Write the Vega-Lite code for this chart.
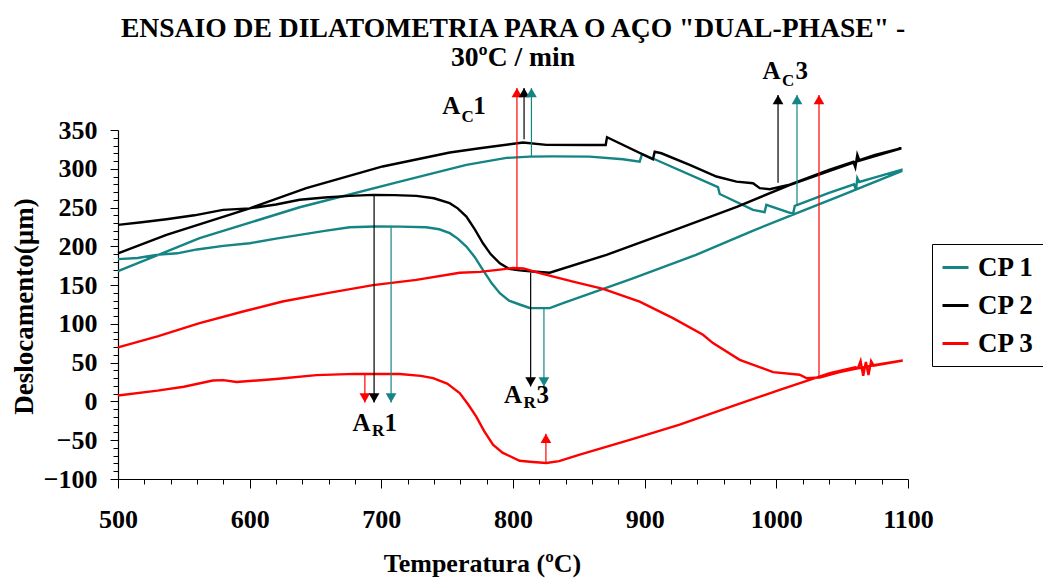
{
  "$schema": "https://vega.github.io/schema/vega-lite/v6.json",
  "width": 790,
  "height": 349,
  "autosize": {"type": "none"},
  "padding": {"left": 118, "top": 130, "right": 135, "bottom": 101},
  "background": "white",
  "title": {
    "text": ["ENSAIO DE DILATOMETRIA PARA O AÇO \"DUAL-PHASE\" -", "30ºC / min"],
    "font": "Liberation Serif",
    "fontSize": 27.6,
    "fontWeight": "bold",
    "color": "#000000",
    "anchor": "middle",
    "frame": "group",
    "lineHeight": 29,
    "offset": -12
  },
  "config": {
    "view": {"stroke": null},
    "axis": {
      "grid": false,
      "domainColor": "#000000",
      "domainWidth": 1.2,
      "tickColor": "#000000",
      "labelFont": "Liberation Serif",
      "labelFontWeight": "bold",
      "labelFontSize": 26,
      "labelColor": "#000000",
      "labelFlush": false,
      "titleFont": "Liberation Serif",
      "titleFontWeight": "bold",
      "titleColor": "#000000",
      "labelOverlap": false
    },
    "legend": {
      "labelFont": "Liberation Serif",
      "labelFontWeight": "bold",
      "labelFontSize": 27,
      "labelColor": "#000000"
    }
  },
  "datasets": {
    "curves": [
      {"s":"CP 1","t":500,"d":183.5},{"s":"CP 1","t":515,"d":185},{"s":"CP 1","t":529,"d":189},{"s":"CP 1","t":545,"d":191},{"s":"CP 1","t":560,"d":196},{"s":"CP 1","t":580,"d":200.6},{"s":"CP 1","t":600,"d":204},{"s":"CP 1","t":620,"d":210},{"s":"CP 1","t":638,"d":214.8},{"s":"CP 1","t":657,"d":220},{"s":"CP 1","t":676,"d":224.6},{"s":"CP 1","t":695,"d":225.5},{"s":"CP 1","t":714,"d":225.4},{"s":"CP 1","t":734,"d":224.6},{"s":"CP 1","t":744,"d":222},{"s":"CP 1","t":752,"d":217},{"s":"CP 1","t":758,"d":210},{"s":"CP 1","t":764.6,"d":199.7},{"s":"CP 1","t":771,"d":186},{"s":"CP 1","t":777,"d":170},{"s":"CP 1","t":784,"d":152},{"s":"CP 1","t":790,"d":139.6},{"s":"CP 1","t":797,"d":130},{"s":"CP 1","t":805,"d":125},{"s":"CP 1","t":812.7,"d":120.5},{"s":"CP 1","t":827.9,"d":120.3},{"s":"CP 1","t":838,"d":126.7},{"s":"CP 1","t":890,"d":158},{"s":"CP 1","t":939,"d":189},{"s":"CP 1","t":982,"d":220},{"s":"CP 1","t":1012.7,"d":241},{"s":"CP 1","t":1050,"d":266},{"s":"CP 1","t":1095,"d":297},
      {"s":"CP 1","t":1095,"d":298.5},{"s":"CP 1","t":1075,"d":289},{"s":"CP 1","t":1063,"d":283},{"s":"CP 1","t":1061.5,"d":288},{"s":"CP 1","t":1060.5,"d":273},{"s":"CP 1","t":1059,"d":280},{"s":"CP 1","t":1040,"d":269},{"s":"CP 1","t":1014,"d":252},{"s":"CP 1","t":1012.7,"d":241.8},{"s":"CP 1","t":992.4,"d":253.4},{"s":"CP 1","t":991.1,"d":244},{"s":"CP 1","t":982.3,"d":247},{"s":"CP 1","t":957,"d":267.5},{"s":"CP 1","t":955.7,"d":276.2},{"s":"CP 1","t":907.6,"d":312.3},{"s":"CP 1","t":898,"d":319},{"s":"CP 1","t":896.2,"d":309.2},{"s":"CP 1","t":883.5,"d":312.3},{"s":"CP 1","t":858.2,"d":315.7},{"s":"CP 1","t":830,"d":316},{"s":"CP 1","t":812.6,"d":315.7},{"s":"CP 1","t":795,"d":314},{"s":"CP 1","t":764.6,"d":305},{"s":"CP 1","t":714,"d":283.4},{"s":"CP 1","t":638,"d":250.4},{"s":"CP 1","t":562,"d":210.5},{"s":"CP 1","t":500,"d":168},
      {"s":"CP 2","t":500,"d":227.7},{"s":"CP 2","t":518,"d":231},{"s":"CP 2","t":536.8,"d":235},{"s":"CP 2","t":558,"d":240},{"s":"CP 2","t":579.7,"d":247},{"s":"CP 2","t":600,"d":249},{"s":"CP 2","t":620,"d":254},{"s":"CP 2","t":638,"d":260},{"s":"CP 2","t":657,"d":263},{"s":"CP 2","t":676,"d":265},{"s":"CP 2","t":693.7,"d":266.3},{"s":"CP 2","t":710,"d":266},{"s":"CP 2","t":726.6,"d":265},{"s":"CP 2","t":740,"d":262},{"s":"CP 2","t":751.9,"d":255.7},{"s":"CP 2","t":758,"d":249},{"s":"CP 2","t":764.6,"d":238.4},{"s":"CP 2","t":771,"d":222},{"s":"CP 2","t":777.2,"d":204},{"s":"CP 2","t":783,"d":190},{"s":"CP 2","t":790,"d":178},{"s":"CP 2","t":797,"d":171},{"s":"CP 2","t":805,"d":169},{"s":"CP 2","t":815,"d":167.5},{"s":"CP 2","t":827.9,"d":166},{"s":"CP 2","t":871,"d":189},{"s":"CP 2","t":924,"d":222},{"s":"CP 2","t":970,"d":251},{"s":"CP 2","t":1010,"d":279},{"s":"CP 2","t":1040,"d":297},{"s":"CP 2","t":1060.8,"d":309.2},{"s":"CP 2","t":1095,"d":326.5},
      {"s":"CP 2","t":1095,"d":326.5},{"s":"CP 2","t":1075,"d":318},{"s":"CP 2","t":1063,"d":311},{"s":"CP 2","t":1061.5,"d":318},{"s":"CP 2","t":1060,"d":302},{"s":"CP 2","t":1058.5,"d":309},{"s":"CP 2","t":1040,"d":298.5},{"s":"CP 2","t":1010.1,"d":279.5},{"s":"CP 2","t":995,"d":273.6},{"s":"CP 2","t":987.4,"d":275},{"s":"CP 2","t":982.3,"d":281.3},{"s":"CP 2","t":969.7,"d":283.4},{"s":"CP 2","t":954.5,"d":290},{"s":"CP 2","t":934.2,"d":305},{"s":"CP 2","t":912.7,"d":320},{"s":"CP 2","t":907.6,"d":322},{"s":"CP 2","t":906.3,"d":312.3},{"s":"CP 2","t":871.4,"d":340.6},{"s":"CP 2","t":870.4,"d":330.7},{"s":"CP 2","t":858.2,"d":330.7},{"s":"CP 2","t":825.4,"d":330.8},{"s":"CP 2","t":807.6,"d":333.8},{"s":"CP 2","t":774.7,"d":326.5},{"s":"CP 2","t":752,"d":321},{"s":"CP 2","t":701,"d":303},{"s":"CP 2","t":643,"d":275},{"s":"CP 2","t":600,"d":249},{"s":"CP 2","t":536.8,"d":214.8},{"s":"CP 2","t":500,"d":191},
      {"s":"CP 3","t":500,"d":7.7},{"s":"CP 3","t":530,"d":14},{"s":"CP 3","t":550,"d":19},{"s":"CP 3","t":572,"d":27},{"s":"CP 3","t":580,"d":27.5},{"s":"CP 3","t":590,"d":25},{"s":"CP 3","t":620,"d":29},{"s":"CP 3","t":650.6,"d":34},{"s":"CP 3","t":680,"d":35.5},{"s":"CP 3","t":714,"d":35.3},{"s":"CP 3","t":730,"d":33},{"s":"CP 3","t":739.3,"d":30},{"s":"CP 3","t":750,"d":23},{"s":"CP 3","t":759.5,"d":10.8},{"s":"CP 3","t":766,"d":-4},{"s":"CP 3","t":772,"d":-19.3},{"s":"CP 3","t":778,"d":-38},{"s":"CP 3","t":784.8,"d":-55.8},{"s":"CP 3","t":792,"d":-66},{"s":"CP 3","t":805,"d":-76.5},{"s":"CP 3","t":815,"d":-78},{"s":"CP 3","t":825.4,"d":-79.4},{"s":"CP 3","t":835,"d":-77},{"s":"CP 3","t":850.7,"d":-68.7},{"s":"CP 3","t":890,"d":-49},{"s":"CP 3","t":926.6,"d":-30},{"s":"CP 3","t":965,"d":-7},{"s":"CP 3","t":1002.6,"d":15},{"s":"CP 3","t":1040.6,"d":36.6},{"s":"CP 3","t":1060,"d":44},{"s":"CP 3","t":1062,"d":43},{"s":"CP 3","t":1064,"d":52},{"s":"CP 3","t":1066,"d":33},{"s":"CP 3","t":1068,"d":51},{"s":"CP 3","t":1070,"d":34},{"s":"CP 3","t":1072,"d":52},{"s":"CP 3","t":1074,"d":46},{"s":"CP 3","t":1096,"d":52.8},
      {"s":"CP 3","t":1096,"d":52.8},{"s":"CP 3","t":1075,"d":47},{"s":"CP 3","t":1060,"d":42},{"s":"CP 3","t":1048.1,"d":37.8},{"s":"CP 3","t":1032.9,"d":30.9},{"s":"CP 3","t":1022.8,"d":30.1},{"s":"CP 3","t":1017.7,"d":34.4},{"s":"CP 3","t":997.5,"d":37.8},{"s":"CP 3","t":972.2,"d":53.7},{"s":"CP 3","t":951.9,"d":75.2},{"s":"CP 3","t":944.3,"d":85.9},{"s":"CP 3","t":921.5,"d":107.4},{"s":"CP 3","t":896.2,"d":128.8},{"s":"CP 3","t":868.4,"d":145.2},{"s":"CP 3","t":845.6,"d":154.6},{"s":"CP 3","t":820.3,"d":165.4},{"s":"CP 3","t":808,"d":171.5},{"s":"CP 3","t":800,"d":172},{"s":"CP 3","t":790,"d":170},{"s":"CP 3","t":775,"d":167},{"s":"CP 3","t":759.5,"d":166},{"s":"CP 3","t":726.6,"d":156.8},{"s":"CP 3","t":693.7,"d":150},{"s":"CP 3","t":660,"d":140},{"s":"CP 3","t":625,"d":128.9},{"s":"CP 3","t":595,"d":116},{"s":"CP 3","t":562,"d":101},{"s":"CP 3","t":530,"d":84},{"s":"CP 3","t":500,"d":69.6}
    ],
    "arrows": [
      {"s":"CP 3","t":803,"from":170,"tip":404,"dir":"up"},
      {"s":"CP 2","t":808.4,"from":338,"tip":404,"dir":"up"},
      {"s":"CP 1","t":814,"from":316,"tip":404,"dir":"up"},
      {"s":"CP 2","t":1001.3,"from":282,"tip":395,"dir":"up"},
      {"s":"CP 1","t":1015.7,"from":253.5,"tip":395,"dir":"up"},
      {"s":"CP 3","t":1032.4,"from":31,"tip":395,"dir":"up"},
      {"s":"CP 3","t":825,"from":-79,"tip":-41.6,"dir":"up"},
      {"s":"CP 3","t":687.5,"from":35.3,"tip":-1.3,"dir":"down"},
      {"s":"CP 2","t":694.5,"from":266,"tip":-1.3,"dir":"down"},
      {"s":"CP 1","t":707.4,"from":225,"tip":-1.3,"dir":"down"},
      {"s":"CP 2","t":813.4,"from":166,"tip":19.3,"dir":"down"},
      {"s":"CP 1","t":823.5,"from":120.3,"tip":19.3,"dir":"down"}
    ],
    "labels": [
      {"txt":"A","t":753.2,"d":370.2,"k":"big"},{"txt":"C","t":765.6,"d":360.7,"k":"sub"},{"txt":"1","t":774.5,"d":370.2,"k":"big"},
      {"txt":"A","t":996.3,"d":415.3,"k":"big"},{"txt":"C","t":1009.0,"d":406.5,"k":"sub"},{"txt":"3","t":1019.3,"d":415.3,"k":"big"},
      {"txt":"A","t":684.9,"d":-38.7,"k":"big"},{"txt":"R","t":697.5,"d":-44.2,"k":"sub"},{"txt":"1","t":707.2,"d":-38.7,"k":"big"},
      {"txt":"A","t":800,"d":-2.1,"k":"big"},{"txt":"R","t":812.7,"d":-8.5,"k":"sub"},{"txt":"3","t":822.6,"d":-2.1,"k":"big"}
    ]
  },
  "encoding": {
    "x": {
      "field": "t", "type": "quantitative",
      "scale": {"domain": [500, 1100], "nice": false, "zero": false},
      "axis": {
        "title": "Temperatura (ºC)",
        "titleFontSize": 26,
        "titleBaseline": "alphabetic",
        "titleX": 364,
        "titleY": 92,
        "values": [500,520,540,560,580,600,620,640,660,680,700,720,740,760,780,800,820,840,860,880,900,920,940,960,980,1000,1020,1040,1060,1080,1100],
        "labelExpr": "datum.value % 100 === 0 ? datum.label : ''",
        "tickSize": {"condition": {"test": "datum.value % 100 === 0", "value": 9}, "value": 5},
        "labelPadding": 18,
        "format": "d"
      }
    },
    "y": {
      "field": "d", "type": "quantitative",
      "scale": {"domain": [-100, 350], "nice": false, "zero": false},
      "axis": {
        "title": "Deslocamento(µm)",
        "titleFontSize": 27,
        "titleX": -94,
        "titleY": 176,
        "titleBaseline": "middle",
        "titleAngle": -90,
        "values": [-100,-90,-80,-70,-60,-50,-40,-30,-20,-10,0,10,20,30,40,50,60,70,80,90,100,110,120,130,140,150,160,170,180,190,200,210,220,230,240,250,260,270,280,290,300,310,320,330,340,350],
        "labelExpr": "datum.value % 50 === 0 ? datum.label : ''",
        "tickSize": {"condition": {"test": "datum.value % 50 === 0", "value": 8}, "value": 5},
        "labelPadding": 13,
        "format": "d"
      }
    }
  },
  "layer": [
    {
      "data": {"name": "curves"},
      "mark": {"type": "line", "strokeWidth": 2.4, "clip": false},
      "encoding": {
        "color": {
          "field": "s", "type": "nominal",
          "scale": {"domain": ["CP 1", "CP 2", "CP 3"], "range": ["#148484", "#000000", "#ff0000"]},
          "legend": {
            "title": null,
            "orient": "none",
            "legendX": 814,
            "legendY": 114,
            "strokeColor": "#000000",
            "padding": 9,
            "symbolType": "stroke",
            "symbolSize": 676,
            "symbolStrokeWidth": 3,
            "labelOffset": 8,
            "rowPadding": 10
          }
        },
        "order": {"value": null}
      }
    },
    {
      "data": {"name": "arrows"},
      "mark": {"type": "rule", "strokeWidth": 1.2},
      "encoding": {
        "y": {"field": "from", "type": "quantitative"},
        "y2": {"field": "tip"},
        "color": {"field": "s", "type": "nominal", "legend": null}
      }
    },
    {
      "data": {"name": "arrows"},
      "transform": [{"filter": "datum.dir === 'up'"}],
      "mark": {"type": "point", "shape": "triangle-up", "filled": true, "size": 115, "opacity": 1, "yOffset": 4.6},
      "encoding": {
        "y": {"field": "tip", "type": "quantitative"},
        "color": {"field": "s", "type": "nominal", "legend": null}
      }
    },
    {
      "data": {"name": "arrows"},
      "transform": [{"filter": "datum.dir === 'down'"}],
      "mark": {"type": "point", "shape": "triangle-down", "filled": true, "size": 115, "opacity": 1, "yOffset": -4.6},
      "encoding": {
        "y": {"field": "tip", "type": "quantitative"},
        "color": {"field": "s", "type": "nominal", "legend": null}
      }
    },
    {
      "data": {"name": "labels"},
      "transform": [{"filter": "datum.k === 'big'"}],
      "mark": {"type": "text", "font": "Liberation Serif", "fontWeight": "bold", "fontSize": 25, "baseline": "alphabetic", "align": "center", "color": "#000000"},
      "encoding": {"text": {"field": "txt"}}
    },
    {
      "data": {"name": "labels"},
      "transform": [{"filter": "datum.k === 'sub'"}],
      "mark": {"type": "text", "font": "Liberation Serif", "fontWeight": "bold", "fontSize": 17, "baseline": "alphabetic", "align": "center", "color": "#000000"},
      "encoding": {"text": {"field": "txt"}}
    }
  ]
}
